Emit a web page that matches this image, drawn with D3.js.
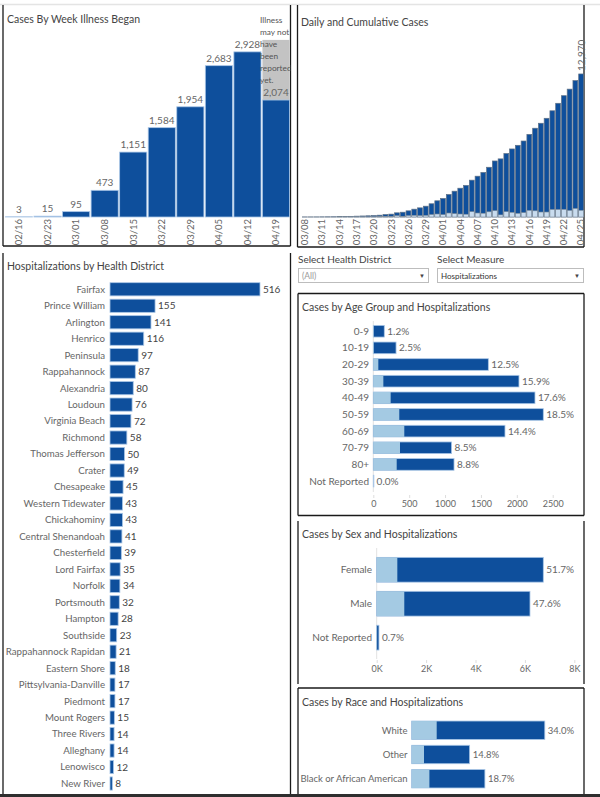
<!DOCTYPE html>
<html>
<head>
<meta charset="utf-8">
<script src="https://cdn.jsdelivr.net/npm/d3@7"></script>
<style>
  body { margin: 0; background: #fff; }
  svg { display: block; font-family: Lato, "Open Sans", sans-serif; }
</style>
</head>
<body>
<svg id="dash" width="600" height="797"></svg>
<script>
// ---- data ----
const weeks = ["02/16", "02/23", "03/01", "03/08", "03/15", "03/22", "03/29", "04/05", "04/12", "04/19"];
const weekCases = [3, 15, 95, 473, 1151, 1584, 1954, 2683, 2928, 2074];
const pendingWeek = "04/19";
const pendingTop = 3140;
const pendingNote = ["Illness", "may not", "have", "been", "reported", "yet."];

const days = [
  "03/08", "03/09", "03/10", "03/11", "03/12", "03/13", "03/14", "03/15", "03/16", "03/17",
  "03/18", "03/19", "03/20", "03/21", "03/22", "03/23", "03/24", "03/25", "03/26", "03/27",
  "03/28", "03/29", "03/30", "03/31", "04/01", "04/02", "04/03", "04/04", "04/05", "04/06",
  "04/07", "04/08", "04/09", "04/10", "04/11", "04/12", "04/13", "04/14", "04/15", "04/16",
  "04/17", "04/18", "04/19", "04/20", "04/21", "04/22", "04/23", "04/24", "04/25"];
const cumulative = [
  2, 3, 5, 9, 14, 22, 32, 45, 60, 77,
  94, 110, 130, 165, 225, 260, 380, 435, 560, 710,
  830, 980, 1200, 1470, 1680, 2040, 2340, 2610, 2860, 3340,
  3700, 4040, 4510, 5080, 5270, 5750, 6170, 6500, 6890, 7490,
  8050, 8500, 8950, 9630, 10310, 11000, 11594, 12366, 12970];
const daily = [
  1, 1, 2, 4, 5, 8, 10, 13, 15, 17,
  17, 16, 20, 35, 60, 35, 120, 55, 125, 150,
  120, 150, 220, 270, 210, 360, 300, 270, 250, 480,
  360, 340, 470, 570, 190, 480, 420, 330, 390, 600,
  560, 450, 450, 680, 680, 690, 594, 772, 604];

const districts = ["Fairfax", "Prince William", "Arlington", "Henrico", "Peninsula", "Rappahannock",
  "Alexandria", "Loudoun", "Virginia Beach", "Richmond", "Thomas Jefferson", "Crater", "Chesapeake",
  "Western Tidewater", "Chickahominy", "Central Shenandoah", "Chesterfield", "Lord Fairfax", "Norfolk",
  "Portsmouth", "Hampton", "Southside", "Rappahannock Rapidan", "Eastern Shore", "Pittsylvania-Danville",
  "Piedmont", "Mount Rogers", "Three Rivers", "Alleghany", "Lenowisco", "New River"];
const districtHosp = [516, 155, 141, 116, 97, 87, 80, 76, 72, 58, 50, 49, 45, 43, 43, 41, 39, 35, 34,
  32, 28, 23, 21, 18, 17, 17, 15, 14, 14, 12, 8];

const ageGroups = ["0-9", "10-19", "20-29", "30-39", "40-49", "50-59", "60-69", "70-79", "80+", "Not Reported"];
const ageCases = [153, 317, 1603, 2030, 2253, 2369, 1835, 1091, 1125, 4];
const ageHosp = [4, 6, 70, 140, 242, 362, 432, 372, 326, 0];
const agePct = ["1.2%", "2.5%", "12.5%", "15.9%", "17.6%", "18.5%", "14.4%", "8.5%", "8.8%", "0.0%"];
const ageTicks = [0, 500, 1000, 1500, 2000, 2500];

const sexes = ["Female", "Male", "Not Reported"];
const sexCases = [6745, 6206, 91];
const sexHosp = [835, 1117, 10];
const sexPct = ["51.7%", "47.6%", "0.7%"];
const sexTicks = [0, 2000, 4000, 6000, 8000];

const races = ["White", "Other", "Black or African American"];
const raceCases = [4437, 1931, 2440];
const raceHosp = [833, 410, 590];
const racePct = ["34.0%", "14.8%", "18.7%"];

// ---- style ----
const DARK = "#0e4f9c";
const LIGHT = "#a4cae3";
const EDGE = "#a9c6e6";
const TEXT = "#666";
const TITLE = "#444";

const svg = d3.select("#dash");

svg.append("defs").append("clipPath").attr("id", "clipW")
  .append("rect").attr("x", 3).attr("y", 0).attr("width", 287.5).attr("height", 246);

// thin grey rule along the top of the dashboard
svg.append("line").attr("x1", 0).attr("x2", 600).attr("y1", 4.5).attr("y2", 4.5)
  .attr("stroke", "#e4e4e4").attr("stroke-width", 1.5);

function border(x0, y0, x1, y1, sides) {
  const segs = {
    T: [x0, y0, x1, y0], B: [x0, y1, x1, y1],
    L: [x0, y0, x0, y1], R: [x1, y0, x1, y1]
  };
  sides.split("").forEach(s => {
    const p = segs[s];
    svg.append("line").attr("x1", p[0]).attr("y1", p[1]).attr("x2", p[2]).attr("y2", p[3])
      .attr("stroke", "#1a1a1a").attr("stroke-width", 1.3);
  });
}

function title(x, y, txt) {
  svg.append("text").attr("x", x).attr("y", y).attr("font-size", 10.5)
    .attr("fill", TITLE).text(txt);
}

function rotatedAxis(g, scale, y, values) {
  const ax = g.append("g").attr("transform", `translate(0,${y})`)
    .call(d3.axisBottom(scale).tickSize(0).tickValues(values));
  ax.select(".domain").remove();
  ax.selectAll("text")
    .attr("transform", "rotate(-90)")
    .attr("text-anchor", "end")
    .attr("x", -1).attr("y", 0).attr("dy", "0.35em")
    .attr("font-size", 9.5).attr("fill", TEXT)
    .attr("font-family", "Lato, 'Open Sans', sans-serif");
}

// ---- Cases By Week Illness Began ----
border(3, 5, 290.5, 246, "LRB");
title(7, 23, "Cases By Week Illness Began");
const gW = svg.append("g").attr("clip-path", "url(#clipW)");
const xW = d3.scaleBand().domain(weeks).range([4, 291]).paddingInner(0.05).paddingOuter(0.05);
const yW = d3.scaleLinear().domain([0, 3500]).range([217, 19.6]);

gW.append("rect")
  .attr("x", xW(pendingWeek)).attr("width", xW.bandwidth())
  .attr("y", yW(pendingTop)).attr("height", yW(0) - yW(pendingTop))
  .attr("fill", "#c3c3c3");

gW.selectAll("rect.wk").data(weeks).enter().append("rect")
  .attr("class", "wk")
  .attr("x", d => xW(d)).attr("width", xW.bandwidth())
  .attr("y", (d, i) => yW(weekCases[i]))
  .attr("height", (d, i) => yW(0) - yW(weekCases[i]))
  .attr("fill", DARK).attr("stroke", EDGE).attr("stroke-width", 0.8);

gW.selectAll("text.wv").data(weeks).enter().append("text")
  .attr("class", "wv")
  .attr("x", d => xW(d) + xW.bandwidth() / 2)
  .attr("y", (d, i) => yW(weekCases[i]) - 4)
  .attr("text-anchor", "middle").attr("font-size", 10).attr("fill", TEXT)
  .text((d, i) => d3.format(",")(weekCases[i]));

gW.append("text").attr("font-size", 8.3).attr("fill", "#555")
  .selectAll("tspan").data(pendingNote).enter().append("tspan")
  .attr("x", 260).attr("y", (d, i) => 23 + i * 12).text(d => d);

rotatedAxis(gW, xW, 218, weeks);

// ---- Daily and Cumulative Cases ----
border(297.5, 5, 584, 247, "LRB");
title(301, 26, "Daily and Cumulative Cases");
const gD = svg.append("g");
const xD = d3.scaleBand().domain(days).range([302, 584]).paddingInner(0.16).paddingOuter(0.08);
const yD = d3.scaleLinear().domain([0, 14000]).range([217, 62.6]);

gD.selectAll("rect.cum").data(days).enter().append("rect")
  .attr("class", "cum")
  .attr("x", d => xD(d)).attr("width", xD.bandwidth())
  .attr("y", (d, i) => yD(cumulative[i]))
  .attr("height", (d, i) => yD(0) - yD(cumulative[i]))
  .attr("fill", DARK).attr("stroke", "#5f7186").attr("stroke-width", 0.7);

gD.selectAll("rect.day").data(days).enter().append("rect")
  .attr("class", "day")
  .attr("x", d => xD(d)).attr("width", xD.bandwidth())
  .attr("y", (d, i) => yD(daily[i]))
  .attr("height", (d, i) => yD(0) - yD(daily[i]))
  .attr("fill", "#c9dcef").attr("stroke", "#7d8b99").attr("stroke-width", 0.6);

const lastDay = days[days.length - 1];
gD.append("text")
  .attr("transform", `translate(${xD(lastDay) + xD.bandwidth() / 2},${yD(cumulative[cumulative.length - 1]) - 3}) rotate(-90)`)
  .attr("dy", "0.35em").attr("font-size", 10).attr("fill", TEXT)
  .text(d3.format(",")(cumulative[cumulative.length - 1]));

rotatedAxis(gD, xD, 218, days.filter((d, i) => i % 3 === 0));

// ---- Hospitalizations by Health District ----
border(3, 253, 290.5, 794, "LR");
title(7, 270, "Hospitalizations by Health District");
const gH = svg.append("g");
const yH = d3.scaleBand().domain(districts).range([279.4, 793.4]).padding(0.2);
const xH = d3.scaleLinear().domain([0, 600]).range([110, 284.4]);

gH.selectAll("rect").data(districts).enter().append("rect")
  .attr("x", xH(0)).attr("y", d => yH(d))
  .attr("width", (d, i) => xH(districtHosp[i]) - xH(0)).attr("height", yH.bandwidth())
  .attr("fill", DARK).attr("stroke", EDGE).attr("stroke-width", 0.8);

gH.selectAll("text.dn").data(districts).enter().append("text")
  .attr("class", "dn")
  .attr("x", 105).attr("y", d => yH(d) + yH.bandwidth() / 2).attr("dy", "0.35em")
  .attr("text-anchor", "end").attr("font-size", 9.7).attr("fill", TEXT).text(d => d);

gH.selectAll("text.dv").data(districts).enter().append("text")
  .attr("class", "dv")
  .attr("x", (d, i) => xH(districtHosp[i]) + 3).attr("y", d => yH(d) + yH.bandwidth() / 2)
  .attr("dy", "0.35em").attr("font-size", 10).attr("fill", "#444")
  .text((d, i) => districtHosp[i]);

// ---- filters ----
function dropdown(x, label, value, w, valueColor, valueSize) {
  svg.append("text").attr("x", x).attr("y", 263).attr("font-size", 10).attr("fill", TITLE).text(label);
  svg.append("rect").attr("x", x + 0.5).attr("y", 268.5).attr("width", w).attr("height", 14)
    .attr("fill", "#fff").attr("stroke", "#bdbdbd");
  svg.append("text").attr("x", x + 4).attr("y", 279).attr("font-size", valueSize)
    .attr("fill", valueColor).text(value);
  svg.append("text").attr("x", x + w - 9).attr("y", 277.5).attr("font-size", 6)
    .attr("fill", "#444").text("▼");
}
dropdown(298, "Select Health District", "(All)", 130, "#999", 8.5);
dropdown(437, "Select Measure", "Hospitalizations", 146, "#333", 8);

// ---- split bars (cases with hospitalized share) ----
function splitBars(g, cats, cases, hosp, pct, x, y, labelX, fs) {
  g.selectAll("rect.c").data(cats).enter().append("rect")
    .attr("class", "c")
    .attr("x", x(0)).attr("y", d => y(d))
    .attr("width", (d, i) => Math.max(x(cases[i]) - x(0), 0.6)).attr("height", y.bandwidth())
    .attr("fill", DARK).attr("stroke", EDGE).attr("stroke-width", 0.8);
  g.selectAll("rect.h").data(cats).enter().append("rect")
    .attr("class", "h")
    .attr("x", x(0)).attr("y", d => y(d))
    .attr("width", (d, i) => x(hosp[i]) - x(0)).attr("height", y.bandwidth())
    .attr("fill", LIGHT);
  g.selectAll("text.l").data(cats).enter().append("text")
    .attr("class", "l")
    .attr("x", labelX).attr("y", d => y(d) + y.bandwidth() / 2).attr("dy", "0.35em")
    .attr("text-anchor", "end").attr("font-size", fs).attr("fill", TEXT).text(d => d);
  g.selectAll("text.p").data(cats).enter().append("text")
    .attr("class", "p")
    .attr("x", (d, i) => x(cases[i]) + 3).attr("y", d => y(d) + y.bandwidth() / 2).attr("dy", "0.35em")
    .attr("font-size", fs).attr("fill", TEXT).text((d, i) => pct[i]);
}

function valueAxis(g, x, y, ticks, fmt) {
  const ax = g.append("g").attr("transform", `translate(0,${y})`)
    .call(d3.axisBottom(x).tickValues(ticks).tickSize(3).tickFormat(fmt));
  ax.select(".domain").remove();
  ax.selectAll("line").attr("stroke", "#ddd");
  ax.selectAll("text").attr("font-size", 9).attr("fill", TEXT)
    .attr("font-family", "Lato, 'Open Sans', sans-serif");
}

// age
border(298, 293.5, 584, 515.5, "TLRB");
title(302, 311, "Cases by Age Group and Hospitalizations");
const gA = svg.append("g");
const yA = d3.scaleBand().domain(ageGroups).range([320.4, 491.9]).padding(0.3);
const xA = d3.scaleLinear().domain([0, 2500]).range([373.3, 552.7]);
gA.append("line").attr("x1", xA(0)).attr("x2", xA(0)).attr("y1", 321).attr("y2", 492)
  .attr("stroke", "#e2e2e2");
splitBars(gA, ageGroups, ageCases, ageHosp, agePct, xA, yA, 369, 10);
valueAxis(gA, xA, 495, ageTicks, d3.format("d"));

// sex
border(298, 521, 584, 684, "LR");
title(302, 538, "Cases by Sex and Hospitalizations");
const gS = svg.append("g");
const yS = d3.scaleBand().domain(sexes).range([548.2, 659.2]).padding(0.27);
const xS = d3.scaleLinear().domain([0, 8000]).range([376.7, 574.3]);
gS.append("line").attr("x1", xS(0)).attr("x2", xS(0)).attr("y1", 548).attr("y2", 659)
  .attr("stroke", "#e2e2e2");
splitBars(gS, sexes, sexCases, sexHosp, sexPct, xS, yS, 372, 10);
valueAxis(gS, xS, 660, sexTicks, d => d / 1000 + "K");

// race
border(298, 688, 584, 794, "TLR");
title(302, 706, "Cases by Race and Hospitalizations");
const gR = svg.append("g");
const yR = d3.scaleBand().domain(races).range([715.2, 793.8]).padding(0.24);
const xR = d3.scaleLinear().domain([0, 5500]).range([411.7, 576.7]);
splitBars(gR, races, raceCases, raceHosp, racePct, xR, yR, 407.5, 9.5);

// dark strip at the bottom edge
svg.append("rect").attr("x", 0).attr("y", 794).attr("width", 600).attr("height", 3).attr("fill", "#2e2e2e");
</script>
</body>
</html>
